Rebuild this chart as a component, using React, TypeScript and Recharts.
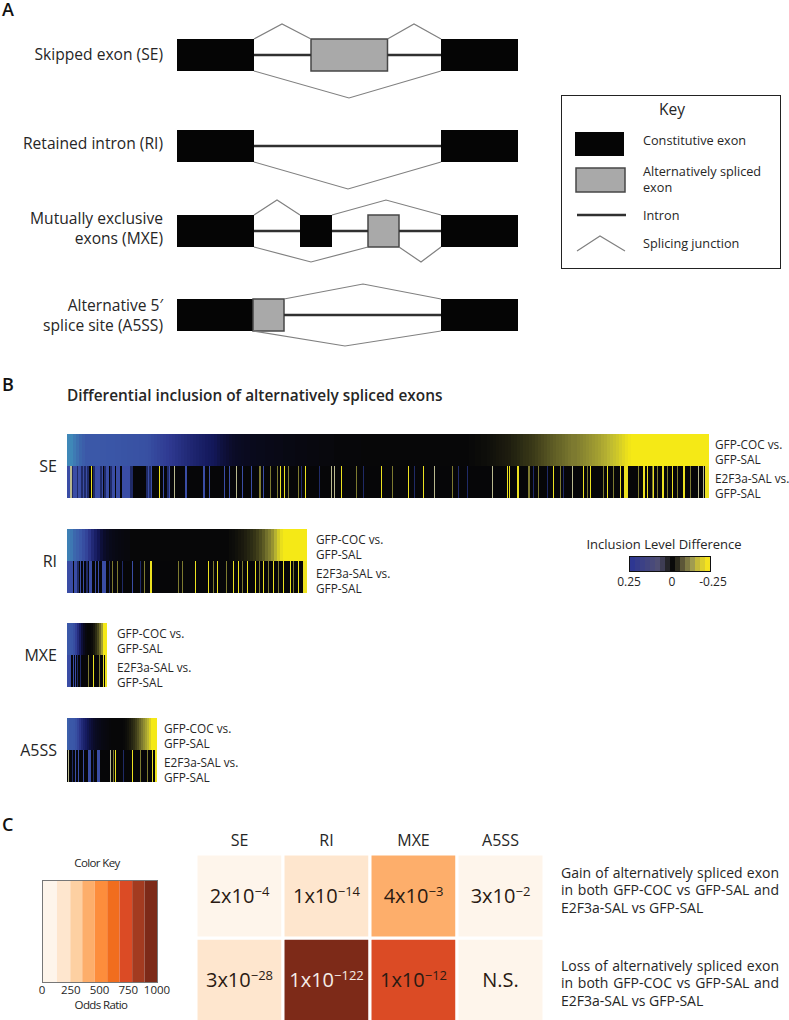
import {
  Bar,
  BarChart,
  Cell,
  LabelList,
  Line,
  LineChart,
  ReferenceArea,
  XAxis,
  YAxis,
} from "recharts";

const FONT = "'Open Sans', 'Noto Sans', sans-serif";
const INK = "#262626";

// panel A, gene models: x along the transcript, y above/below the exon midline
type Span = number[];
type Pt = number[];

const seExons: Span[] = [[0, 77], [264, 341]];
const seAlt: Span[] = [[134, 210.5]];
const seIntrons: Span[] = [[77, 134], [210.5, 264]];
const seJunctions: Pt[][] = [
  [[77, 16], [105, 31], [134, 16]],
  [[210.5, 16], [237, 31], [264, 16]],
  [[77, -16], [172, -43], [264, -16]],
];

const riExons: Span[] = [[0, 77], [264, 341]];
const riAlt: Span[] = [];
const riIntrons: Span[] = [[77, 264]];
const riJunctions: Pt[][] = [[[77, -16], [171, -43], [264, -16]]];

const mxeExons: Span[] = [[0, 77], [123, 155], [264, 341]];
const mxeAlt: Span[] = [[191, 222]];
const mxeIntrons: Span[] = [[77, 123], [155, 191], [222, 264]];
const mxeJunctions: Pt[][] = [
  [[77, 16], [100, 31], [123, 16]],
  [[155, 16], [209, 31], [264, 16]],
  [[77, -16], [134, -31], [191, -16]],
  [[222, -16], [244, -31], [264, -16]],
];

const a5ssExons: Span[] = [[0, 77], [264, 341]];
const a5ssAlt: Span[] = [[76, 107]];
const a5ssIntrons: Span[] = [[107, 264]];
const a5ssJunctions: Pt[][] = [
  [[107, 16], [186, 31], [264, 16]],
  [[76, -16], [168, -31], [264, -16]],
];

// panel B, top rows: inclusion level difference per bin (+ blue, - yellow)
const seTopValues = [
  1.3, 1.3, 1.22, 1.15, 1.08, 1.04,
  1, 1, 1, 1, 1, 0.99, 0.99, 0.98, 0.98, 0.98, 0.97, 0.97, 0.96, 0.96, 0.95,
  0.95, 0.94, 0.94, 0.93, 0.93, 0.92, 0.9,
  0.86, 0.83, 0.8, 0.77, 0.74, 0.71, 0.68, 0.65, 0.62, 0.59, 0.56, 0.53, 0.5, 0.47, 0.44, 0.42, 0.39, 0.37, 0.34, 0.32,
  0.3, 0.28, 0.25, 0.22, 0.2, 0.18, 0.16, 0.14, 0.13, 0.12,
  0.11, 0.1, 0.1, 0.09, 0.09, 0.08, 0.08, 0.08, 0.07, 0.07, 0.07, 0.06, 0.06, 0.06, 0.05, 0.05, 0.05, 0.05, 0.04, 0.04,
  0.04, 0.04, 0.03, 0.03, 0.03, 0.03, 0.02, 0.02, 0.02, 0.02, 0.02, 0.01, 0.01, 0.01, 0.01, 0.01, 0.01, 0.01, 0.01, 0.01,
  0, 0, 0, 0, 0, 0, 0, 0, 0, 0, 0, 0, 0, 0, 0, 0, 0, 0,
  0, 0, 0, 0, 0, 0, 0, 0, 0, 0, 0, 0, 0, 0, 0, 0, 0, 0,
  -0.01, -0.01, -0.02, -0.02, -0.03, -0.03, -0.04, -0.05, -0.06, -0.07, -0.08, -0.09, -0.1, -0.11, -0.13, -0.14, -0.16, -0.18,
  -0.2, -0.21, -0.23, -0.25, -0.27, -0.29, -0.31, -0.33, -0.35, -0.37, -0.39, -0.41,
  -0.42, -0.44, -0.46, -0.48, -0.5, -0.5, -0.52, -0.54, -0.56, -0.58, -0.6,
  -0.62, -0.64, -0.66, -0.69, -0.71, -0.74, -0.77, -0.8, -0.83,
  -0.87, -0.91, -0.95, -0.98,
  -1, -1, -1, -1, -1, -1, -1, -1, -1, -1, -1, -1, -1, -1, -1, -1, -1, -1, -1, -1, -1, -1, -1, -1, -1, -1,
];
const riTopValues = [
  1.25, 1.2, 1.1, 1.05, 1, 0.9, 0.8, 0.65, 0.5,
  0.38, 0.28, 0.2, 0.15, 0.11, 0.08, 0.06, 0.05, 0.04, 0.03, 0.02, 0.02,
  0, 0, 0, 0, 0, 0, 0, 0, 0, 0, 0, 0, 0, 0, 0, 0, 0,
  0, 0, 0, 0, 0, 0, 0, 0, 0, 0, 0, 0, 0, 0, 0, 0,
  -0.02, -0.03, -0.05, -0.07, -0.09, -0.12, -0.15, -0.18, -0.22, -0.27, -0.32, -0.38,
  -0.46, -0.52, -0.6, -0.72, -0.85, -0.95,
  -1, -1, -1, -1, -1, -1, -1, -1,
];
const mxeTopValues = [1, 1, 0.98, 0.9, 0.75, 0.55, 0.35, 0.2, 0.1, 0.03, 0, 0, -0.02, -0.08, -0.18, -0.3, -0.45, -0.65, -1, -1];
const a5ssTopValues = [
  1.05, 1, 1, 0.98, 0.92, 0.8, 0.65, 0.52, 0.42, 0.34,
  0.27, 0.22, 0.18, 0.14, 0.11, 0.09, 0.07, 0.05, 0.04, 0.03,
  0.02, 0.01, 0, 0, 0, 0, 0, 0,
  -0.01, -0.03, -0.06, -0.1, -0.15, -0.2, -0.27, -0.34, -0.42, -0.5,
  -0.58, -0.66, -0.75, -0.88, -1, -1, -1,
];

// panel B, bottom rows: bins by rank along the row, grouped by shade
const seBlueRanks = [
  0, 1, 2, 6, 7, 8, 9, 11, 12, 13, 16, 19, 28, 29, 30, 31, 32, 35, 39, 40, 41, 45, 46, 47, 49, 50, 51, 52,
  55, 56, 57, 58, 59, 60, 61, 62, 81, 84, 96, 102, 118, 119, 136, 137, 142, 157, 162, 175, 184, 196,
];
const seDimRanks = [
  5, 10, 14, 15, 17, 18, 20, 21, 26, 27, 33, 34, 37, 38, 43, 44, 63, 64, 65, 79, 80, 82, 83, 100, 101, 234, 252, 296,
  347, 391, 400, 466, 480, 496,
];
const sePaleRanks = [3, 4, 107, 169, 264, 267, 367, 425, 505, 631, 636];
const seOliveRanks = [
  192, 193, 203, 210, 221, 231, 289, 325, 385, 461, 462, 471, 493, 520, 536, 546, 571, 585, 590, 600, 610, 623,
];
const seYellowRanks = [
  24, 92, 213, 217, 238, 274, 314, 341, 356, 440, 442, 450, 451, 486, 516, 523, 540, 553, 557, 558, 559, 560,
  576, 577, 580, 586, 595, 596, 605, 616, 617, 638, 639, 640, 641,
];

const riBlueRanks = [0, 1, 2, 3, 4, 5, 7, 8, 9, 13, 16, 22, 23, 24, 28, 31, 35, 36, 37, 38, 65];
const riDimRanks = [10, 11, 19, 20, 42, 55, 73];
const riPaleRanks: number[] = [];
const riOliveRanks = [45, 50, 77, 111, 115, 146, 159, 175, 192, 201, 211, 226];
const riYellowRanks = [83, 84, 128, 141, 150, 166, 171, 180, 188, 196, 206, 216, 223, 231, 236, 237, 238, 239];

const mxeBlueRanks = [0, 1, 2, 3, 6, 8];
const mxeDimRanks = [10, 13];
const mxePaleRanks: number[] = [];
const mxeOliveRanks = [21, 32];
const mxeYellowRanks = [26, 36, 38, 39];

const a5ssBlueRanks = [8, 11, 16, 21, 22, 23, 30, 31, 32];
const a5ssDimRanks = [5, 26, 56];
const a5ssPaleRanks = [1, 43];
const a5ssOliveRanks = [46, 73, 80];
const a5ssYellowRanks = [48, 65, 85, 88, 89];

const strips = [
  { name: "SE", top: seTopValues, binW: 3, count: 642, blue: seBlueRanks, dim: seDimRanks, pale: sePaleRanks, olive: seOliveRanks, yellow: seYellowRanks, x: 67, y: 434, labelX: 715 },
  { name: "RI", top: riTopValues, binW: 3, count: 240, blue: riBlueRanks, dim: riDimRanks, pale: riPaleRanks, olive: riOliveRanks, yellow: riYellowRanks, x: 67, y: 529, labelX: 316 },
  { name: "MXE", top: mxeTopValues, binW: 2, count: 40, blue: mxeBlueRanks, dim: mxeDimRanks, pale: mxePaleRanks, olive: mxeOliveRanks, yellow: mxeYellowRanks, x: 67, y: 623, labelX: 117 },
  { name: "A5SS", top: a5ssTopValues, binW: 2, count: 90, blue: a5ssBlueRanks, dim: a5ssDimRanks, pale: a5ssPaleRanks, olive: a5ssOliveRanks, yellow: a5ssYellowRanks, x: 67, y: 718, labelX: 164 },
];

const inclusionKeyValues = [1, 0.9, 0.8, 0.7, 0.6, 0.5, 0.35, 0.15, 0, -0.15, -0.35, -0.5, -0.65, -0.8, -0.9, -1];

// panel C
const oddsBandWidths = [130, 116, 104, 107, 110, 107, 110, 107, 109];
const oddsBandColors = ["#fef5eb", "#fee6ce", "#fdd0a2", "#fdae6b", "#fd8d3c", "#f16d1e", "#db4b25", "#a33b20", "#7d2a18"];
const oddsTicks = [0, 250, 500, 750, 1000];

const spliceTypes = ["SE", "RI", "MXE", "A5SS"];
const gainOdds = [40, 190, 400, 30];
const lossOdds = [170, 950, 760, 30];
const gainP = ["2x10|−4", "1x10|−14", "4x10|−3", "3x10|−2"];
const lossP = ["3x10|−28", "1x10|−122", "1x10|−12", "N.S."];

const lerpHex = (a: string, b: string, t: number) => {
  const part = (s: string, i: number) => parseInt(s.slice(i, i + 2), 16);
  const mix = (i: number) => Math.round(part(a, i) + (part(b, i) - part(a, i)) * t);
  return `rgb(${mix(1)},${mix(3)},${mix(5)})`;
};

const STOPS: [number, string][] = [
  [1.3, "#3f88b8"],
  [1, "#3b58a8"],
  [0.7, "#2f3a92"],
  [0.3, "#13185a"],
  [0.15, "#0b0c2a"],
  [0, "#070708"],
  [-0.25, "#3b3a18"],
  [-0.5, "#7d7a30"],
  [-0.75, "#bdb832"],
  [-1, "#f5e916"],
];

const KEY_STOPS: [number, string][] = [
  [1, "#2e3792"],
  [0.5, "#504f74"],
  [0.15, "#25252a"],
  [0, "#0a0a0a"],
  [-0.35, "#5c5638"],
  [-0.65, "#a09c50"],
  [-1, "#f5e31e"],
];

const colorFor = (v: number, stops = STOPS) => {
  for (let i = 0; i < stops.length - 1; i++) {
    const [hi, hiColor] = stops[i];
    const [lo, loColor] = stops[i + 1];
    if (v <= hi && v >= lo) return lerpHex(loColor, hiColor, (v - lo) / (hi - lo));
  }
  return stops[0][1];
};

const oddsColor = (odds: number) => {
  let edge = 0;
  for (let i = 0; i < oddsBandWidths.length; i++) {
    edge += oddsBandWidths[i];
    if (odds < edge) return oddsBandColors[i];
  }
  return oddsBandColors[oddsBandColors.length - 1];
};

function Txt({ x, y, size = 12, align = "left", weight = 400, color = INK, spacing = 0, lh = 1.2, children }: any) {
  const shift = align === "right" ? "-100%" : align === "center" ? "-50%" : "0";
  return (
    <div
      style={{
        position: "absolute",
        left: x,
        top: y,
        transform: `translate(${shift}, -50%)`,
        fontSize: size,
        fontWeight: weight,
        color,
        letterSpacing: spacing,
        lineHeight: lh,
        whiteSpace: "nowrap",
      }}
    >
      {children}
    </div>
  );
}

function GeneModel({ center, exons, alt, introns, junctions }: any) {
  return (
    <div style={{ position: "absolute", left: 177, top: center - 50 }}>
      <LineChart width={341} height={100} margin={{ top: 0, right: 0, bottom: 0, left: 0 }}>
        <XAxis dataKey="x" type="number" domain={[0, 341]} hide />
        <YAxis type="number" domain={[-50, 50]} hide />
        {introns.map((s: Span, i: number) => (
          <Line
            key={`i${i}`}
            data={[{ x: s[0], y: 0 }, { x: s[1], y: 0 }]}
            dataKey="y"
            stroke="#303030"
            strokeWidth={2.4}
            dot={false}
            isAnimationActive={false}
          />
        ))}
        {junctions.map((pts: Pt[], i: number) => (
          <Line
            key={`j${i}`}
            data={pts.map((p) => ({ x: p[0], y: p[1] }))}
            dataKey="y"
            stroke="#808080"
            strokeWidth={1.2}
            dot={false}
            isAnimationActive={false}
          />
        ))}
        {exons.map((s: Span, i: number) => (
          <ReferenceArea key={`e${i}`} x1={s[0]} x2={s[1]} y1={-16} y2={16} fill="#050505" fillOpacity={1} stroke="none" />
        ))}
        {alt.map((s: Span, i: number) => (
          <ReferenceArea key={`a${i}`} x1={s[0]} x2={s[1]} y1={-16} y2={16} fill="#a9a9a9" fillOpacity={1} stroke="#474747" strokeWidth={1.5} />
        ))}
      </LineChart>
    </div>
  );
}

function KeyGlyphs() {
  return (
    <LineChart width={218} height={173} margin={{ top: 0, right: 0, bottom: 0, left: 0 }}>
      <XAxis dataKey="x" type="number" domain={[0, 218]} hide />
      <YAxis type="number" domain={[0, 173]} reversed hide />
      <ReferenceArea x1={13} x2={62} y1={37} y2={61} fill="#050505" fillOpacity={1} stroke="none" />
      <ReferenceArea x1={14} x2={63} y1={73} y2={97} fill="#a9a9a9" fillOpacity={1} stroke="#474747" strokeWidth={1.5} />
      <Line data={[{ x: 15, y: 120 }, { x: 64, y: 120 }]} dataKey="y" stroke="#303030" strokeWidth={2.4} dot={false} isAnimationActive={false} />
      <Line data={[{ x: 15, y: 156 }, { x: 38, y: 141 }, { x: 63, y: 156 }]} dataKey="y" stroke="#808080" strokeWidth={1.2} dot={false} isAnimationActive={false} />
    </LineChart>
  );
}

function ColorRow({ colors, width, height }: { colors: string[]; width: number; height: number }) {
  const rows = colors.map((color, bin) => ({ bin, one: 1, color }));
  return (
    <div style={{ background: "#060608", width, height }}>
      <BarChart width={width} height={height} data={rows} barCategoryGap={0} margin={{ top: 0, right: 0, bottom: 0, left: 0 }}>
        <XAxis dataKey="bin" hide />
        <YAxis type="number" domain={[0, 1]} hide />
        <Bar dataKey="one" isAnimationActive={false}>
          {rows.map((r) => (
            <Cell key={r.bin} fill={r.color} />
          ))}
        </Bar>
      </BarChart>
    </div>
  );
}

function barcodeColors(s: (typeof strips)[number]) {
  const colors: string[] = Array(s.count).fill("#060608");
  s.dim.forEach((r) => (colors[r] = "#1f2a66"));
  s.blue.forEach((r) => (colors[r] = "#3a4da5"));
  s.olive.forEach((r) => (colors[r] = "#7d7a30"));
  s.pale.forEach((r) => (colors[r] = "#b9b98e"));
  s.yellow.forEach((r) => (colors[r] = "#ece120"));
  return colors;
}

function Strip({ s }: { s: (typeof strips)[number] }) {
  const [a, b, c, d] = [10, 25, 44, 59];
  return (
    <>
      <div style={{ position: "absolute", left: s.x, top: s.y + 32, width: s.count, height: 32, overflow: "hidden" }}>
        {/* the source figure is a soft raster, one pixel lines are not crisp there */}
        <div style={{ filter: "blur(0.45px)" }}>
          <ColorRow colors={barcodeColors(s)} width={s.count} height={32} />
        </div>
      </div>
      <div style={{ position: "absolute", left: s.x, top: s.y }}>
        <ColorRow colors={s.top.map((v) => colorFor(v))} width={s.top.length * s.binW} height={32} />
      </div>
      <Txt x={57} y={s.y + 33} size={16} align="right">{s.name}</Txt>
      <Txt x={s.labelX} y={s.y + a} size={11.8}>GFP-COC vs.</Txt>
      <Txt x={s.labelX} y={s.y + b} size={11.8}>GFP-SAL</Txt>
      <Txt x={s.labelX} y={s.y + c} size={11.8}>E2F3a-SAL vs.</Txt>
      <Txt x={s.labelX} y={s.y + d} size={11.8}>GFP-SAL</Txt>
    </>
  );
}

function PLabel({ x, y, width, height, value, index, row }: any) {
  const [base, exp] = String(value).split("|");
  const odds = row === "gain" ? gainOdds[index] : lossOdds[index];
  const fill = odds > 800 ? "#f5ece6" : "#2a1a12";
  return (
    <text x={x + width / 2} y={y + height / 2 + 7} textAnchor="middle" fontFamily={FONT} fontSize={20} fill={fill}>
      {base}
      {exp && (
        <tspan fontSize={13} dy={-7}>
          {exp}
        </tspan>
      )}
    </text>
  );
}

const matrixRows = spliceTypes.map((type, i) => ({
  type,
  gain: 1,
  loss: 1,
  gainText: gainP[i],
  lossText: lossP[i],
}));

const oddsRow = [Object.fromEntries(oddsBandWidths.map((w, i) => [`b${i}`, w]))];

function Justified({ x, y, children }: any) {
  return (
    <div
      style={{
        position: "absolute",
        left: x,
        top: y,
        width: 218,
        transform: "translateY(-50%)",
        fontSize: 14,
        lineHeight: 1.2,
        color: INK,
        textAlign: "justify",
        textAlignLast: "justify",
      }}
    >
      {children}
    </div>
  );
}

export default function App() {
  return (
    <div
      style={{
        position: "absolute",
        left: 0,
        top: 0,
        width: 789,
        height: 1020,
        overflow: "hidden",
        background: "#fff",
        fontFamily: FONT,
      }}
    >
      {/* A */}
      <Txt x={2} y={9} size={18} weight={600} color="#111" lh={1}>A</Txt>
      <Txt x={163} y={54} size={15.6} align="right">Skipped exon (SE)</Txt>
      <Txt x={163} y={143} size={15.6} align="right">Retained intron (RI)</Txt>
      <Txt x={163} y={218} size={15.6} align="right">Mutually exclusive</Txt>
      <Txt x={163} y={238} size={15.6} align="right">exons (MXE)</Txt>
      <Txt x={163} y={305} size={15.6} align="right">Alternative 5′</Txt>
      <Txt x={163} y={325} size={15.6} align="right">splice site (A5SS)</Txt>

      <GeneModel center={55} exons={seExons} alt={seAlt} introns={seIntrons} junctions={seJunctions} />
      <GeneModel center={145.5} exons={riExons} alt={riAlt} introns={riIntrons} junctions={riJunctions} />
      <GeneModel center={231} exons={mxeExons} alt={mxeAlt} introns={mxeIntrons} junctions={mxeJunctions} />
      <GeneModel center={315} exons={a5ssExons} alt={a5ssAlt} introns={a5ssIntrons} junctions={a5ssJunctions} />

      <div style={{ position: "absolute", left: 562, top: 95 }}>
        <KeyGlyphs />
      </div>
      <div style={{ position: "absolute", left: 561, top: 95, width: 218, height: 172, border: "1px solid #222" }} />
      <Txt x={672} y={109} size={15.5} align="center">Key</Txt>
      <Txt x={643} y={141} size={12.7}>Constitutive exon</Txt>
      <Txt x={643} y={172} size={12.7}>Alternatively spliced</Txt>
      <Txt x={643} y={188} size={12.7}>exon</Txt>
      <Txt x={643} y={216} size={12.7}>Intron</Txt>
      <Txt x={643} y={244} size={12.7}>Splicing junction</Txt>

      {/* B */}
      <Txt x={2} y={384} size={18} weight={600} color="#111" lh={1}>B</Txt>
      <Txt x={67} y={396} size={15.4} weight={600}>Differential inclusion of alternatively spliced exons</Txt>
      {strips.map((s) => (
        <Strip key={s.name} s={s} />
      ))}

      <Txt x={664} y={545} size={13} align="center">Inclusion Level Difference</Txt>
      <div style={{ position: "absolute", left: 630, top: 557 }}>
        <ColorRow colors={inclusionKeyValues.map((v) => colorFor(v, KEY_STOPS))} width={80} height={14} />
      </div>
      <div style={{ position: "absolute", left: 629, top: 556, width: 80, height: 14, border: "1px solid #111" }} />
      <Txt x={629} y={582} size={12} align="center">0.25</Txt>
      <Txt x={672} y={582} size={12} align="center">0</Txt>
      <Txt x={713} y={582} size={12} align="center">-0.25</Txt>

      {/* C */}
      <Txt x={2} y={824} size={18} weight={600} color="#111" lh={1}>C</Txt>
      <Txt x={97} y={863} size={11.5} align="center" spacing={-0.6}>Color Key</Txt>
      <div style={{ position: "absolute", left: 12, top: 880 }}>
        <BarChart
          layout="vertical"
          width={175}
          height={125}
          data={oddsRow}
          barCategoryGap={0}
          margin={{ top: 0, right: 30, bottom: 0, left: 30 }}
        >
          <XAxis
            type="number"
            domain={[0, 1000]}
            ticks={oddsTicks}
            interval={0}
            axisLine={false}
            tickLine={false}
            tickMargin={-2}
            height={23}
            tick={{ fontSize: 11.5, fill: INK, fontFamily: FONT }}
          />
          <YAxis type="category" hide />
          {oddsBandWidths.map((_, i) => (
            <Bar key={i} dataKey={`b${i}`} stackId="key" fill={oddsBandColors[i]} isAnimationActive={false} />
          ))}
        </BarChart>
      </div>
      <div style={{ position: "absolute", left: 42, top: 880, width: 114, height: 101, border: "1px solid #777" }} />
      <Txt x={101} y={1005} size={11.5} align="center" spacing={-0.6} lh={1}>Odds Ratio</Txt>

      <div style={{ position: "absolute", left: 196, top: 824 }}>
        <BarChart
          width={348}
          height={198}
          data={matrixRows}
          barCategoryGap={0}
          margin={{ top: 0, right: 0, bottom: 0, left: 0 }}
        >
          <XAxis
            dataKey="type"
            orientation="top"
            height={30}
            interval={0}
            axisLine={false}
            tickLine={false}
            tickMargin={2}
            tick={{ fontSize: 16, fill: INK, fontFamily: FONT }}
          />
          <YAxis type="number" domain={[0, 2]} hide />
          <Bar dataKey="loss" stackId="m" stroke="#fff" strokeWidth={3} isAnimationActive={false}>
            {lossOdds.map((o, i) => (
              <Cell key={i} fill={oddsColor(o)} />
            ))}
            <LabelList dataKey="lossText" content={(p: any) => <PLabel {...p} row="loss" />} />
          </Bar>
          <Bar dataKey="gain" stackId="m" stroke="#fff" strokeWidth={3} isAnimationActive={false}>
            {gainOdds.map((o, i) => (
              <Cell key={i} fill={oddsColor(o)} />
            ))}
            <LabelList dataKey="gainText" content={(p: any) => <PLabel {...p} row="gain" />} />
          </Bar>
        </BarChart>
      </div>

      <Justified x={561} y={873}>Gain of alternatively spliced exon</Justified>
      <Justified x={561} y={890}>in both GFP-COC vs GFP-SAL and</Justified>
      <Txt x={561} y={907.5} size={14}>E2F3a-SAL vs GFP-SAL</Txt>
      <Justified x={561} y={966}>Loss of alternatively spliced exon</Justified>
      <Justified x={561} y={983}>in both GFP-COC vs GFP-SAL and</Justified>
      <Txt x={561} y={1001} size={14}>E2F3a-SAL vs GFP-SAL</Txt>
    </div>
  );
}
